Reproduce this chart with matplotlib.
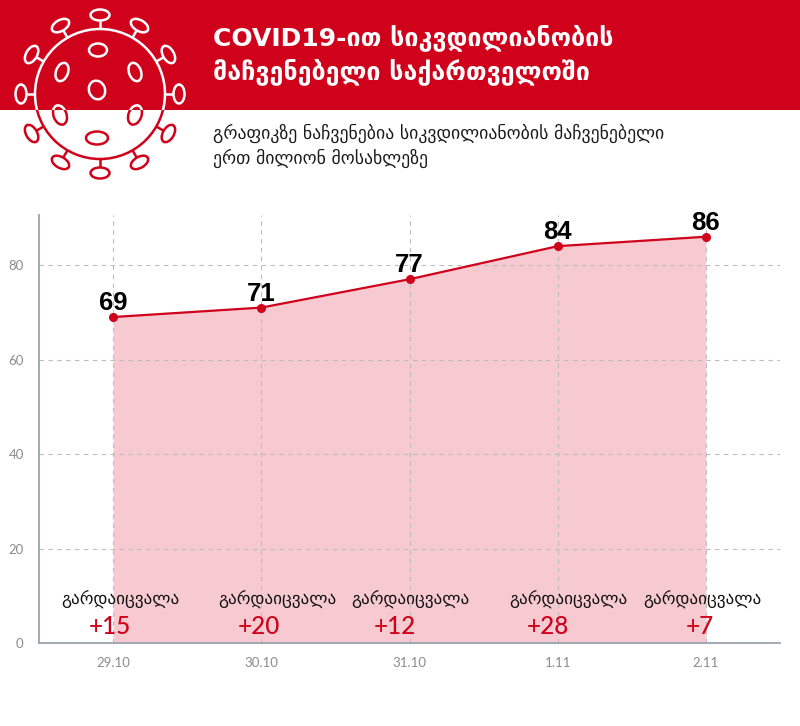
import matplotlib
matplotlib.use("Agg")
import matplotlib.pyplot as plt
from matplotlib.patches import Rectangle, Circle, Ellipse
import numpy as np

# data
dates = ["29.10", "30.10", "31.10", "1.11", "2.11"]
rate_per_million = [69, 71, 77, 84, 86]
new_deaths = [15, 20, 12, 28, 7]
y_ticks = [0, 20, 40, 60, 80]

title_lines = ["COVID19-ით სიკვდილიანობის", "მაჩვენებელი საქართველოში"]
subtitle_lines = ["გრაფიკზე ნაჩვენებია სიკვდილიანობის მაჩვენებელი",
                  "ერთ მილიონ მოსახლეზე"]
died_label = "გარდაიცვალა"

RED = "#d0021b"
PINK = "#f6cad0"
GRID = "#bdbdbd"
TICK = "#8c8c8c"
SPINE = "#9aa3ad"

W, H = 800, 726
BAND = 110

fig = plt.figure(figsize=(W / 100, H / 100), dpi=100)

# background layer in pixel coords (y down)
bg = fig.add_axes([0, 0, 1, 1])
bg.set_xlim(0, W)
bg.set_ylim(H, 0)
bg.axis("off")
bg.add_patch(Rectangle((0, 0), W, BAND, color=RED, lw=0, zorder=0))


def draw_virus(color, clip):
    cx, cy, r = 100, 94, 65
    lw = 1.8
    items = [Circle((cx, cy), r, fill=False, ec=color, lw=lw)]
    for deg in range(0, 360, 30):
        t = np.radians(deg)
        ux, uy = np.cos(t), -np.sin(t)
        ln, = bg.plot([cx + ux * r, cx + ux * 73], [cy + uy * r, cy + uy * 73],
                      color=color, lw=lw, solid_capstyle="butt")
        ln.set_clip_path(clip)
        items.append(Ellipse((cx + ux * 79, cy + uy * 79), 19, 11,
                             angle=-deg + 90, fill=False, ec=color, lw=lw))
    inner = [(98, 50, 18, 13, 0), (62, 72, 12, 19, 20), (135, 72, 12, 19, -20),
             (97, 90, 19, 16, 70), (60, 115, 13, 20, -20), (135, 115, 13, 20, 20),
             (97, 138, 22, 13, 0)]
    for x, y, w, h, a in inner:
        items.append(Ellipse((x, y), w, h, angle=a, fill=False, ec=color, lw=lw))
    for p in items:
        bg.add_patch(p)
        p.set_clip_path(clip)


top_clip = Rectangle((0, 0), W, BAND, transform=bg.transData)
low_clip = Rectangle((0, BAND), W, H - BAND, transform=bg.transData)
draw_virus("white", top_clip)
draw_virus(RED, low_clip)

bg.text(213, 38, title_lines[0], color="white", fontsize=18, fontweight="bold",
        va="center", ha="left", family=["DejaVu Sans"])
bg.text(213, 72, title_lines[1], color="white", fontsize=18, fontweight="bold",
        va="center", ha="left", family=["DejaVu Sans"])
bg.text(213, 133, subtitle_lines[0], color="#1a1a1a", fontsize=12.8,
        va="center", ha="left", family=["DejaVu Sans"])
bg.text(213, 158, subtitle_lines[1], color="#1a1a1a", fontsize=12.8,
        va="center", ha="left", family=["DejaVu Sans"])

# chart
ax = fig.add_axes([39 / W, (H - 643) / H, (780 - 39) / W, (643 - 215) / H])
ax.patch.set_alpha(0)
x = np.arange(len(dates))
ax.fill_between(x, rate_per_million, 0, color=PINK, lw=0, zorder=1)
ax.plot(x, rate_per_million, color=RED, lw=1.6, marker="o", ms=5.5, zorder=3)
ax.set_xlim(-0.5, len(dates) - 0.5)
ax.set_ylim(0, 90.6)
ax.set_yticks(y_ticks)
ax.set_xticks(x, dates)
ax.grid(True, color=GRID, ls=(0, (4, 4)), lw=0.8)
ax.set_axisbelow("line")
for s in ["top", "right"]:
    ax.spines[s].set_visible(False)
for s in ["left", "bottom"]:
    ax.spines[s].set_color(SPINE)
    ax.spines[s].set_linewidth(1.3)
ax.tick_params(length=0, colors=TICK, labelsize=9.5)
ax.tick_params(axis="y", pad=11)
ax.tick_params(axis="x", pad=10)
for lab in ax.get_xticklabels() + ax.get_yticklabels():
    lab.set_family(["Lato", "DejaVu Sans"])

for i, v in enumerate(rate_per_million):
    ax.annotate(str(v), (i, v), xytext=(0, 7), textcoords="offset pixels",
                ha="center", va="baseline", fontsize=18.5, fontweight="bold",
                family=["Liberation Sans", "DejaVu Sans"], zorder=4)

died_dx = [7, 16, 1, 11, -4]
num_dx = [-3, -2, -15, -10, -6]
for i, n in enumerate(new_deaths):
    ax.annotate(died_label, (i, 9.4), xytext=(died_dx[i], 0), textcoords="offset pixels",
                ha="center", va="center", fontsize=12.3, color="#111111",
                family=["DejaVu Sans"], zorder=4)
    ax.annotate(f"+{n}", (i, 3.4), xytext=(num_dx[i], 0), textcoords="offset pixels",
                ha="center", va="center", fontsize=17.5, color=RED, fontweight="medium",
                family=["Lato", "DejaVu Sans"], zorder=4)

fig.savefig("out.png", dpi=100)
